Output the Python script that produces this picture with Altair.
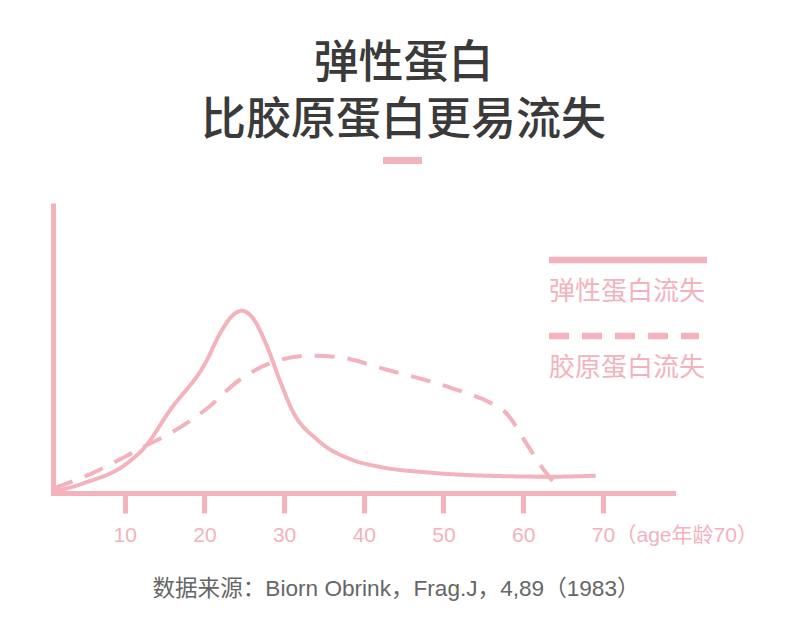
import altair as alt
import pandas as pd

PINK = "#F3B2BC"
CJK = "Noto Sans CJK SC"
MIXED = "Liberation Sans, Noto Sans CJK SC"

# Curve values (age in years, relative loss in arbitrary units)
elastin_age = [1.1, 4.8, 10.3, 12.4, 15.7, 20.1, 22.2, 23.6, 24.7, 26.1, 27.7, 29.6, 31.0, 34.2, 38.6, 41.9, 48.4, 56.6, 63.7, 69.1]
elastin_val = [1.3, 9.7, 29.7, 44.7, 83.0, 129.7, 163.0, 178.0, 182.3, 174.7, 149.7, 109.7, 83.0, 53.0, 33.0, 26.3, 20.3, 17.0, 16.3, 17.3]

collagen_age = [1.1, 5.9, 12.4, 15.7, 20.1, 24.4, 28.2, 33.2, 36.4, 43.0, 51.1, 56.0, 57.7, 60.4, 62.0, 63.9]
collagen_val = [4.7, 19.7, 46.3, 59.7, 83.0, 113.0, 129.7, 137.3, 136.3, 123.0, 104.7, 89.7, 81.3, 49.7, 29.7, 9.7]

series_names = ["弹性蛋白流失", "胶原蛋白流失"]
tick_values = [10, 20, 30, 40, 50, 60, 70]
title_lines = ["弹性蛋白", "比胶原蛋白更易流失"]
axis_note = "（age年龄70）"
source_text = "数据来源：Biorn Obrink，Frag.J，4,89（1983）"

rows = []
for a, v in zip(elastin_age, elastin_val):
    rows.append({"age": a, "value": v, "series": series_names[0], "order": len(rows)})
for a, v in zip(collagen_age, collagen_val):
    rows.append({"age": a, "value": v, "series": series_names[1], "order": len(rows)})
df = pd.DataFrame(rows)

W, H = 620, 290

lines = alt.Chart(df).mark_line(
    color=PINK, strokeWidth=4, interpolate="monotone", strokeCap="butt"
).encode(
    x=alt.X(
        "age:Q",
        scale=alt.Scale(domain=[1, 78.8], nice=False, zero=False),
        axis=alt.Axis(
            values=tick_values,
            format="d",
            grid=False,
            domainColor=PINK,
            domainWidth=5,
            domainCap="square",
            tickColor=PINK,
            tickWidth=5,
            tickSize=20,
            labelColor=PINK,
            labelFont=MIXED,
            labelFontSize=21,
            labelPadding=22,
            labelBaseline="middle",
            labelFlush=False,
            title=axis_note,
            titleFont=MIXED,
            titleFontSize=21,
            titleFontWeight="normal",
            titleColor=PINK,
            titleAlign="left",
            titleBaseline="middle",
            titleAngle=0,
            titleX=562,
            titleY=42,
        ),
    ),
    y=alt.Y(
        "value:Q",
        scale=alt.Scale(domain=[0, 290], nice=False),
        axis=alt.Axis(
            grid=False,
            ticks=False,
            labels=False,
            title=None,
            domainColor=PINK,
            domainWidth=5,
            domainCap="butt",
        ),
    ),
    detail="series:N",
    order="order:Q",
    strokeDash=alt.StrokeDash(
        "series:N",
        scale=alt.Scale(domain=series_names, range=[[1, 0], [20, 13]]),
        legend=None,
    ),
)

one = pd.DataFrame({"k": [0]})

def text_layer(txt, x, y, size, color, weight="normal", align="center", font=CJK, **kw):
    return alt.Chart(pd.DataFrame({"t": [txt]})).mark_text(
        font=font, fontSize=size, color=color, fontWeight=weight,
        align=align, baseline="middle", **kw
    ).encode(text="t:N", x=alt.value(x), y=alt.value(y))

title = text_layer("\n".join(title_lines), 350.5, -139, 45, "#3a3a3a", 500,
                   lineBreak="\n", lineHeight=57)

title_dash = alt.Chart(one).mark_rule(color=PINK, strokeWidth=7).encode(
    x=alt.value(330), x2=alt.value(369), y=alt.value(-42.5)
)

legend_solid = alt.Chart(one).mark_rule(color=PINK, strokeWidth=6.5).encode(
    x=alt.value(496), x2=alt.value(654), y=alt.value(57)
)
legend_dash = alt.Chart(one).mark_rule(color=PINK, strokeWidth=6.5, strokeDash=[20, 13]).encode(
    x=alt.value(496), x2=alt.value(646), y=alt.value(133)
)
legend_t1 = text_layer(series_names[0], 496, 89, 26, PINK, align="left")
legend_t2 = text_layer(series_names[1], 496, 165, 26, PINK, align="left")

source = text_layer(source_text, 343, 386, 22.6, "#666666", font=MIXED)

chart = alt.layer(
    lines, title, title_dash, legend_solid, legend_dash, legend_t1, legend_t2, source
).properties(
    width=W,
    height=H,
    autosize=alt.AutoSizeParams(type="none"),
    padding={"left": 45, "top": 195, "right": 119, "bottom": 128},
    background="white",
).configure_view(stroke=None)

chart.save("out.html", embed_options={"renderer": "svg", "actions": False})
